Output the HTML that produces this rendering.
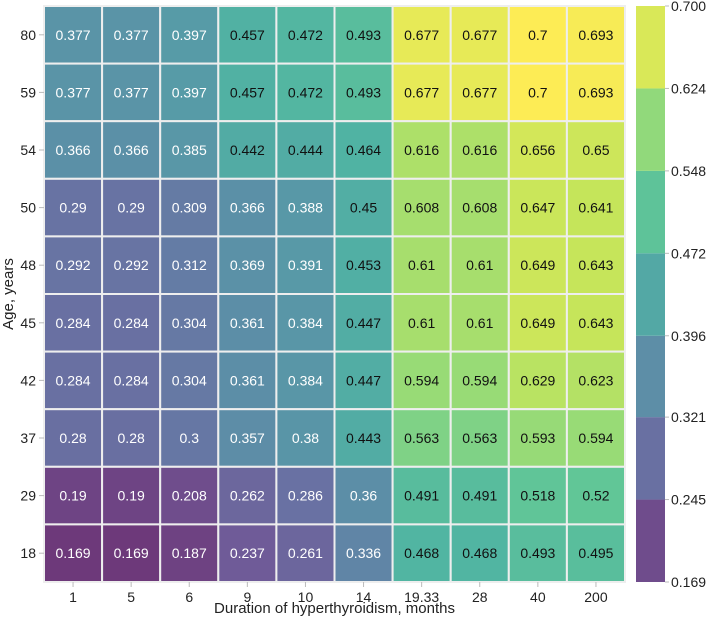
<!DOCTYPE html>
<html><head><meta charset="utf-8"><style>
body{margin:0;background:#fff;}
svg{display:block;font-family:"Liberation Sans",Arial,sans-serif;}
</style></head><body>
<svg id="chart" width="709" height="622"></svg>
<script>
const ages=["80","59","54","50","48","45","42","37","29","18"];
const durations=["1","5","6","9","10","14","19.33","28","40","200"];
const row80=[0.377,0.377,0.397,0.457,0.472,0.493,0.677,0.677,0.7,0.693];
const row59=[0.377,0.377,0.397,0.457,0.472,0.493,0.677,0.677,0.7,0.693];
const row54=[0.366,0.366,0.385,0.442,0.444,0.464,0.616,0.616,0.656,0.65];
const row50=[0.29,0.29,0.309,0.366,0.388,0.45,0.608,0.608,0.647,0.641];
const row48=[0.292,0.292,0.312,0.369,0.391,0.453,0.61,0.61,0.649,0.643];
const row45=[0.284,0.284,0.304,0.361,0.384,0.447,0.61,0.61,0.649,0.643];
const row42=[0.284,0.284,0.304,0.361,0.384,0.447,0.594,0.594,0.629,0.623];
const row37=[0.28,0.28,0.3,0.357,0.38,0.443,0.563,0.563,0.593,0.594];
const row29=[0.19,0.19,0.208,0.262,0.286,0.36,0.491,0.491,0.518,0.52];
const row18=[0.169,0.169,0.187,0.237,0.261,0.336,0.468,0.468,0.493,0.495];
const values=[row80,row59,row54,row50,row48,row45,row42,row37,row29,row18];
const cbTicks=["0.169","0.245","0.321","0.396","0.472","0.548","0.624","0.700"];

const NS="http://www.w3.org/2000/svg";
const svg=document.getElementById('chart');
const X0=44,X1=625,Y0=6,Y1=582,VMIN=0.169,VMAX=0.7;
const cw=(X1-X0)/durations.length, ch=(Y1-Y0)/ages.length;
const xPos=i=>X0+i*cw, yPos=j=>Y0+j*ch;
const vir=[[68,1,84],[72,40,120],[62,74,137],[49,104,142],[38,130,142],[31,158,137],[53,183,121],[109,205,89],[180,222,44],[253,231,37]];
function color(v){
  let t=Math.max(0,Math.min(1,(v-VMIN)/(VMAX-VMIN)))*(vir.length-1);
  let i=Math.min(vir.length-2,Math.floor(t)),f=t-i;
  const c=vir[i].map((a,k)=>a+(vir[i+1][k]-a)*f).map(a=>Math.round(a*0.78+255*0.22));
  return `rgb(${c[0]},${c[1]},${c[2]})`;
}
function el(tag,attrs,parent){const e=document.createElementNS(NS,tag);for(const k in attrs)e.setAttribute(k,attrs[k]);(parent||svg).appendChild(e);return e;}

values.forEach((row,j)=>row.forEach((v,i)=>{
  const r=el('rect',{x:xPos(i),y:yPos(j),width:cw,height:ch,fill:color(v),stroke:'#eeeeee','stroke-width':2});
  
  
  const t=el('text',{x:xPos(i)+cw/2,y:yPos(j)+ch/2+5,'text-anchor':'middle','font-size':14,fill:v>=0.44?'#111':'#fff'});
  t.textContent=String(v);
  
  
}));
ages.forEach((a,j)=>{
  const y=yPos(j)+ch/2;
  el('line',{x1:X0-5,x2:X0,y1:y,y2:y,stroke:'#bbb'});
  const t=el('text',{x:X0-8,y:y+5,'text-anchor':'end','font-size':14,fill:'#222'});
  t.textContent=a;
  
  
});
durations.forEach((d,i)=>{
  const x=xPos(i)+cw/2;
  el('line',{x1:x,x2:x,y1:Y1,y2:Y1+5,stroke:'#bbb'});
  const t=el('text',{x:x,y:Y1+20,'text-anchor':'middle','font-size':14,fill:'#222'});
  t.textContent=d;
  
  
});
let xt=el('text',{x:(X0+X1)/2,y:613,'text-anchor':'middle','font-size':15,fill:'#222'});
xt.textContent='Duration of hyperthyroidism, months';


let yt=el('text',{x:0,y:0,'text-anchor':'middle','font-size':15,fill:'#222',transform:`translate(13,${(Y0+Y1)/2}) rotate(-90)`});
yt.textContent='Age, years';


const CX=636,CW=29;
const cbY=v=>Y1-(v-VMIN)/(VMAX-VMIN)*(Y1-Y0);
for(let k=0;k<cbTicks.length-1;k++){
  const lo=parseFloat(cbTicks[k]),hi=parseFloat(cbTicks[k+1]);
  const r=el('rect',{x:CX,y:cbY(hi),width:CW,height:cbY(lo)-cbY(hi),fill:color((lo+hi)/2)});
  
  
}
cbTicks.forEach(s=>{
  const y=cbY(parseFloat(s));
  el('line',{x1:CX+CW,x2:CX+CW+4,y1:y,y2:y,stroke:'#bbb'});
  const t=el('text',{x:CX+CW+6,y:y+5,'font-size':14,fill:'#222'});
  t.textContent=s;
  
  
});
</script>
</body></html>
